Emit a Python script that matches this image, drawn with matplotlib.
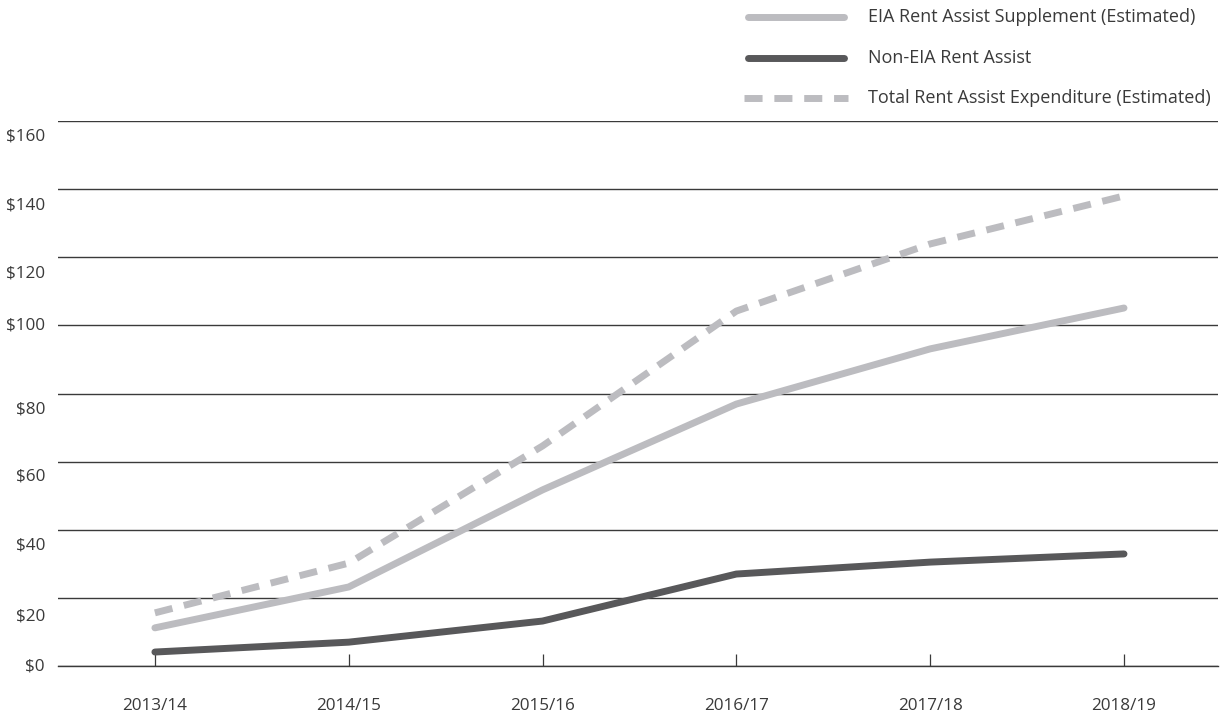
import matplotlib
matplotlib.use("Agg")
import matplotlib.pyplot as plt
import matplotlib.transforms as mtrans
from matplotlib.lines import Line2D

years = ["2013/14", "2014/15", "2015/16", "2016/17", "2017/18", "2018/19"]
eia = [11.2, 23.2, 51.7, 76.9, 93.1, 105.1]
non_eia = [4.1, 7.0, 13.2, 27.0, 30.5, 32.9]
total = [15.6, 30.2, 64.6, 104.2, 123.9, 138.0]
yticks = [0, 20, 40, 60, 80, 100, 120, 140, 160]
ytick_labels = ["$0", "$20", "$40", "$60", "$80", "$100", "$120", "$140", "$160"]
# pixel offset of each y label below its gridline (as in the reference layout)
ylabel_drop_px = [0, 19, 16, 15, 16, 0, 16, 16, 15]

plt.rcParams['font.family'] = ['Open Sans', 'DejaVu Sans']

W, H = 1228, 717
fig = plt.figure(figsize=(W/100, H/100), dpi=100)
ax = fig.add_axes([58/W, 1-666/H, (1218-58)/W, (666-121)/H])

light = "#bcbcc0"
dark = "#58585a"
txt = "#3a3a3a"
x = list(range(len(years)))
ax.plot(x, total, color=light, lw=5, dashes=(2.6, 1.7), solid_capstyle='butt')
ax.plot(x, eia, color=light, lw=5, solid_capstyle='round')
ax.plot(x, non_eia, color=dark, lw=5, solid_capstyle='round')

ax.set_xlim(-0.5, 5.485)
ax.set_ylim(0, 160)
ax.set_yticks(yticks)
ax.set_yticklabels([])
ax.yaxis.grid(True, color=txt, lw=1.0)
ax.set_axisbelow(True)
for s in ["top", "right", "left"]:
    ax.spines[s].set_visible(False)
ax.spines["bottom"].set_color(txt)
ax.spines["bottom"].set_linewidth(1.0)
ax.tick_params(axis='y', length=0)
ax.set_xticks(x)
ax.set_xticklabels(years)
ax.tick_params(axis='x', direction='in', length=9, width=0.9, color=txt,
               pad=23, labelsize=12.3, labelcolor=txt)

# y labels placed at the left edge, right-aligned
ytrans = mtrans.blended_transform_factory(fig.transFigure, ax.transData)
for v, lab, d in zip(yticks, ytick_labels, ylabel_drop_px):
    off = mtrans.ScaledTranslation(0, -d/100, fig.dpi_scale_trans)
    ax.text(45/W, v, lab, transform=ytrans + off, fontsize=12.3, color=txt,
            ha='right', va='center', clip_on=False)

# legend
entries = [("EIA Rent Assist Supplement (Estimated)", light, '-', 17),
           ("Non-EIA Rent Assist", dark, '-', 58),
           ("Total Rent Assist Expenditure (Estimated)", light, '--', 98)]
for label, c, ls, yy in entries:
    yf = 1 - yy/H
    if ls == '-':
        fig.add_artist(Line2D([748/W, 844/W], [yf, yf], color=c, lw=5, solid_capstyle='round'))
    else:
        fig.add_artist(Line2D([744/W, 848/W], [yf, yf], color=c, lw=5, dashes=(2.6, 1.7), solid_capstyle='butt'))
    fig.text(868/W, yf, label, fontsize=13.0, color=txt, va='center', ha='left')

fig.savefig("out.png", dpi=100)
